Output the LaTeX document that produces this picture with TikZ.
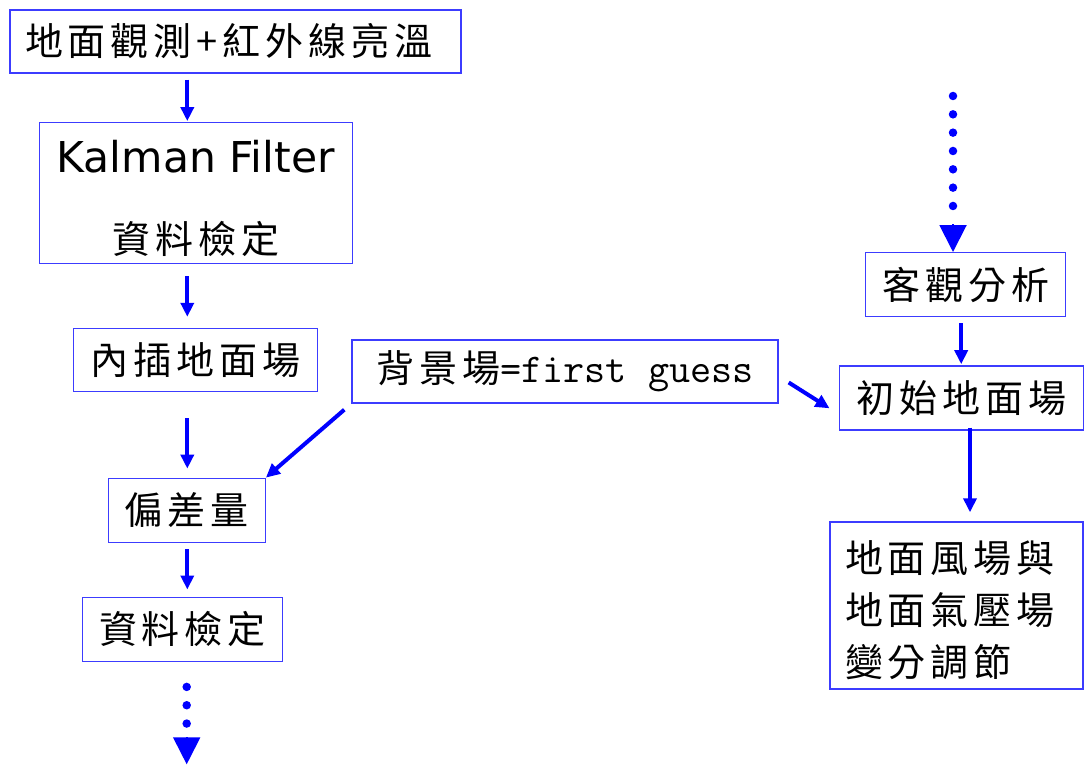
\documentclass[tikz,border=0pt]{standalone}
\usepackage{fontspec}
\usetikzlibrary{arrows.meta}
\newfontfamily\cjk{Noto Sans CJK TC}[LetterSpace=13]
\newfontfamily\kalf{DejaVu Sans}
\definecolor{boxblue}{RGB}{60,60,255}
\definecolor{arrblue}{RGB}{0,0,255}
\begin{document}
\begin{tikzpicture}[x=1pt,y=-1pt,
  box/.style={draw=boxblue, line width=1.4pt, inner sep=0pt, text=black,
    font=\cjk\fontsize{38}{52}\selectfont},
  arr/.style={draw=arrblue, line width=4pt, -{Triangle[length=14pt,width=13pt]}},
  dotline/.style={draw=arrblue, line width=8.5pt, line cap=round, dash pattern=on 0pt off 18.33pt},
  bigtip/.style={draw=arrblue, line width=2pt, -{Triangle[length=27pt,width=27pt]}}]
\useasboundingbox (0,0) rectangle (1085,765);
% left column x
\coordinate (lx) at (187.3,0);
% nodes
\node[box, minimum width=451pt, minimum height=63pt, text width=421pt, align=left] (top) at (235.5,41.5) {地面觀測+紅外線亮溫};
\node[box, minimum width=313pt, minimum height=141pt, align=center] (kal) at (195.7,192.8)
  {{\kalf\fontsize{42.5}{50}\selectfont\rule{0pt}{43pt}Kalman Filter}\\[29pt]資料檢定};
\node[box, minimum width=244pt, minimum height=63pt] (interp) at (195.3,360) {內插地面場};
\node[box, minimum width=426pt, minimum height=63pt] (bg) at (565,371.5)
  {背景場{\ttfamily\fontsize{41}{44}\selectfont=first guess}};
\node[box, minimum width=157pt, minimum height=64pt] (bias) at (186.7,510.3) {偏差量};
\node[box, minimum width=200pt, minimum height=64pt] (chk) at (182.5,629.2) {資料檢定};
\node[box, minimum width=200pt, minimum height=64pt] (obj) at (965.7,284.7) {客觀分析};
\node[box, minimum width=244pt, minimum height=64pt] (init) at (961.2,397.9) {初始地面場};
\node[box, minimum width=253pt, minimum height=167pt, text width=223pt, align=left] (big) at (956.5,605.5)
  {\rule{0pt}{42pt}地面風場與\\地面氣壓場\\變分調節};
% free ends
\coordinate (trtop) at (953,96);
\coordinate (blend) at (186.7,764.3);
% left column arrows
\draw[arr] ([yshift=-6pt]top.south -| lx) -- ([yshift=0.5pt]kal.north -| lx);
\draw[arr] ([yshift=-12pt]kal.south -| lx) -- ([yshift=11pt]interp.north -| lx);
\draw[arr] ([yshift=-26pt]interp.south -| lx) -- ([yshift=9pt]bias.north -| lx);
\draw[arr] ([yshift=-6pt]bias.south -| lx) -- ([yshift=7pt]chk.north -| lx);
% diagonal arrows
\draw[arr] ([shift={(-7,6)}]bg.south west) -- (bias.north east);
\draw[arr] ([shift={(10,11)}]bg.east) -- ([shift={(-9,10.4)}]init.west);
% right column
\draw[arr] ([yshift=-6pt]obj.south -| init.north) -- ([yshift=1pt]init.north);
\coordinate (rx) at (970,0);
\draw[arr] ([yshift=3pt]init.south -| rx) -- ([yshift=9pt]big.north -| rx);
% dotted arrows
\draw[dotline] (trtop) -- ([yshift=28.5pt]obj.north -| trtop);
\draw[bigtip] ([yshift=28pt]obj.north -| trtop) -- (obj.north -| trtop);
\draw[dotline] ([yshift=-25pt]chk.south -| blend) -- ([yshift=-62.5pt]chk.south -| blend);
\draw[bigtip] ([yshift=27pt]blend) -- (blend);
\end{tikzpicture}
\end{document}
